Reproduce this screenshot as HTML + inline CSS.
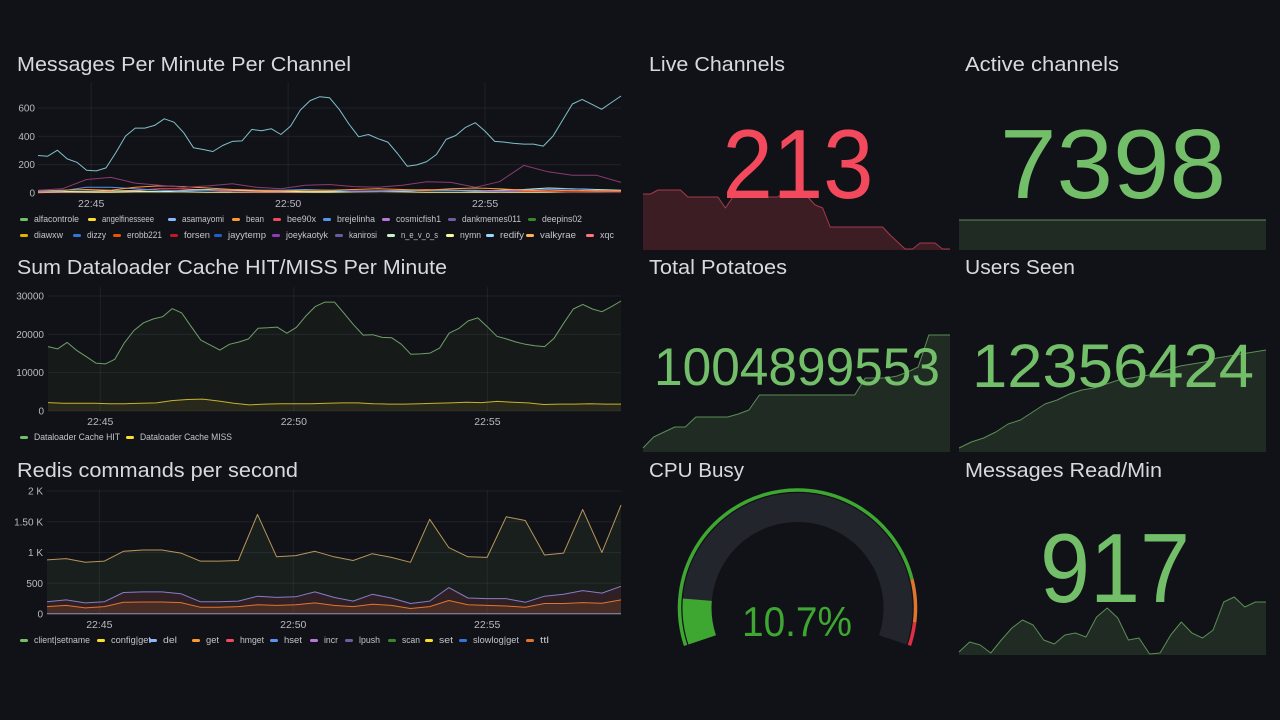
<!DOCTYPE html>
<html><head><meta charset="utf-8"><title>Dashboard</title>
<style>
html,body{margin:0;padding:0;background:#111217;}
svg{display:block;font-family:"Liberation Sans",sans-serif;}
</style></head>
<body>
<svg id="dash" width="1280" height="720" viewBox="0 0 1280 720" xmlns="http://www.w3.org/2000/svg">
<rect x="0" y="0" width="1280" height="720" fill="#111217"/>
<g fill="#d8d9e0" font-size="20">
<text x="17" y="71" textLength="334" lengthAdjust="spacingAndGlyphs">Messages Per Minute Per Channel</text>
<text x="17" y="274" textLength="430" lengthAdjust="spacingAndGlyphs">Sum Dataloader Cache HIT/MISS Per Minute</text>
<text x="17" y="477" textLength="281" lengthAdjust="spacingAndGlyphs">Redis commands per second</text>
<text x="649" y="71" textLength="136" lengthAdjust="spacingAndGlyphs">Live Channels</text>
<text x="965" y="71" textLength="154" lengthAdjust="spacingAndGlyphs">Active channels</text>
<text x="649" y="274" textLength="138" lengthAdjust="spacingAndGlyphs">Total Potatoes</text>
<text x="965" y="274" textLength="110" lengthAdjust="spacingAndGlyphs">Users Seen</text>
<text x="649" y="477" textLength="95" lengthAdjust="spacingAndGlyphs">CPU Busy</text>
<text x="965" y="477" textLength="197" lengthAdjust="spacingAndGlyphs">Messages Read/Min</text>
</g>
</svg>
<script>
// ---------- DATA ----------
const timeTicks = [45, 50, 55];
const timeTickLabels = ["22:45", "22:50", "22:55"];
const p1Ticks = [0, 200, 400, 600];
const p1TickLabels = ["0", "200", "400", "600"];
const redify = [265,260,302,241,217,160,156,177,283,402,458,458,477,524,500,425,319,307,293,335,364,368,449,439,454,413,472,586,652,680,673,591,487,397,413,383,359,279,189,198,222,272,378,406,463,496,437,364,359,350,345,345,331,402,515,628,661,626,591,638,685];
const joeykaotyk = [20,30,95,110,70,55,40,50,65,40,30,55,60,45,40,55,80,75,40,80,195,150,125,125,75];
const bean = [15,20,25,20,40,50,45,35,25,20,15,20,20,25,30,25,20,30,35,30,20,15,20,15,15];
const brejelinha = [10,15,40,40,30,20,15,20,25,20,20,25,20,10,10,15,20,20,20,15,20,25,30,20,15];
const nevos = [10,10,12,15,15,10,20,25,20,15,12,10,10,10,12,15,20,20,15,20,25,35,30,25,20];
const bee90x = [5,8,10,12,20,30,30,20,10,8,8,10,12,15,15,20,25,20,15,10,12,10,8,10,8];
const nymn = [3,5,5,5,8,8,8,5,5,5,5,5,5,8,10,8,5,5,5,5,5,5,8,8,10];

const p2Ticks = [0, 10000, 20000, 30000];
const p2TickLabels = ["0", "10000", "20000", "30000"];
const cacheHit = [16800,16200,17900,15800,14200,12500,12300,13500,17800,21000,23000,24000,24600,26700,25600,22000,18500,17200,15900,17400,18000,18800,21600,21700,21900,20300,21800,24800,27300,28400,28400,25500,22500,19800,19900,19200,19100,17400,14800,14900,15100,16400,20300,21500,23500,24300,22000,19500,18800,18000,17400,17000,16800,19000,22900,26600,27800,26600,25900,27200,28700];
const cacheMiss = [2200,2000,2000,2000,1900,1900,2000,2100,2700,3000,3100,2600,2000,1600,1800,1900,1900,1900,2000,2100,2100,1900,1800,1800,1900,2000,2100,2300,2200,2500,2300,2100,1700,1800,1800,1900,1800,1800];

const p3Ticks = [0, 500, 1000, 1500, 2000];
const p3TickLabels = ["0", "500", "1 K", "1.50 K", "2 K"];
const redisTop = [880,900,840,860,1020,1040,1040,990,860,860,870,1620,930,950,1020,930,870,980,920,840,1540,1080,930,920,1580,1520,960,990,1700,1000,1770];
const redisMid = [200,230,180,200,350,360,360,330,200,200,210,290,270,280,360,270,210,320,260,170,210,430,260,250,250,190,290,320,380,340,450];
const redisLow = [120,140,100,120,190,195,195,185,110,110,120,150,140,150,180,140,120,160,140,90,120,220,150,140,130,110,170,170,185,175,230];
const redisZero = [5,5,5,5,5,5,5,5,5,5,5,5,5,5,5,5,5,5,5,5,5,5,5,5,5,5,5,5,5,5,5];

const liveValue = "213";
const liveHist = [252,252,256,256,256,256,249,249,249,249,249,238,249,249,249,249,249,249,249,255,249,249,249,241,238,219,219,219,219,219,219,219,219,211,204,197,197,203,203,203,197,197];
const activeValue = "7398";
const activeHist = [7398,7398,7398,7398,7398,7398,7398,7398,7398,7398];
const potatoValue = "1004899553";
const potatoHist = [4,15,20,25,25,35,35,35,35,38,42,57,57,57,57,57,57,57,57,57,57,74,74,74,76,80,85,117,117,117];
const usersValue = "12356424";
const usersHist = [4,10,14,20,28,32,40,48,52,58,62,64,68,72,74,76,78,82,86,88,90,94,96,98,100,102];
const msgsValue = "917";
const msgsHist = [3,13,10,2,15,27,35,30,15,11,20,22,18,38,47,37,15,17,1,2,20,33,22,17,25,53,58,48,53,53];
const cpuValue = 10.7;
const cpuThresholds = [0, 85, 94.7, 100];
const cpuThresholdColors = ["#3ea732", "#e0752d", "#e02f44"];

// ---------- HELPERS ----------
const NS = "http://www.w3.org/2000/svg";
const svg = document.getElementById("dash");
function mk(tag, attrs, parent) {
  const e = document.createElementNS(NS, tag);
  for (const k in attrs) e.setAttribute(k, attrs[k]);
  (parent || svg).appendChild(e);
  return e;
}
const T0 = 43.65, T1 = 58.45;
function timeX(t, x0, x1) { return x0 + (t - T0) / (T1 - T0) * (x1 - x0); }
function idxX(i, n, x0, x1) { return x0 + i / (n - 1) * (x1 - x0); }
function linY(v, d0, d1, yb, yt) { return yb - (v - d0) / (d1 - d0) * (yb - yt); }

function timeAxis(name, x0, x1, yTop, yBot, ty) {
  timeTicks.forEach((t, i) => {
    const x = timeX(t, x0, x1);
    const gl = mk("line", {x1: x, x2: x, y1: yTop, y2: yBot, stroke: "rgba(204,204,220,0.08)"});
    
    
    const tx = mk("text", {x: x, y: ty, "text-anchor": "middle", "font-size": "10.5", fill: "#b8b9c2"});
    tx.textContent = timeTickLabels[i];
    
    
  });
}
function valueAxis(name, ticks, labels, d0, d1, yb, yt, x0, x1, lx) {
  ticks.forEach((v, i) => {
    const y = linY(v, d0, d1, yb, yt);
    const gl = mk("line", {x1: x0, x2: x1, y1: y, y2: y, stroke: "rgba(204,204,220,0.08)"});
    
    
    const tx = mk("text", {x: lx, y: y + 3.5, "text-anchor": "end", "font-size": "10", fill: "#b8b9c2"});
    tx.textContent = labels[i];
    
    
  });
}
function series(name, vals, x0, x1, d0, d1, yb, yt, stroke, fill, width) {
  const pts = vals.map((v, i) => [idxX(i, vals.length, x0, x1), linY(v, d0, d1, yb, yt)]);
  const d = "M" + pts.map(p => p[0].toFixed(1) + "," + p[1].toFixed(1)).join("L");
  if (fill) {
    const a = mk("path", {d: d + "L" + x1 + "," + yb + "L" + x0 + "," + yb + "Z", fill: fill, stroke: "none"});
    
    
  }
  const l = mk("path", {d: d, fill: "none", stroke: stroke, "stroke-width": width || 1, "stroke-linejoin": "round"});
  
  
}
// items: [label, color, textX, textWidth]
function legend(name, items, y) {
  items.forEach(it => {
    const r = mk("rect", {x: it[2] - 14, y: y - 4, width: 8, height: 3, rx: 1.5, fill: it[1]});
    
    
    const t = mk("text", {x: it[2], y: y, "font-size": "9.5", fill: "#c4c5cc", textLength: it[3], lengthAdjust: "spacingAndGlyphs"});
    t.textContent = it[0];
    
    
  });
}

// ---------- PANEL 1 ----------
(function () {
  const x0 = 38, x1 = 621, yb = 193, yt = 108, d1 = 600;
  valueAxis("messages", p1Ticks, p1TickLabels, 0, d1, yb, yt, x0, x1, 35);
  timeAxis("messages", x0, x1, 82, yb, 207);
  series("nymn", nymn, x0, x1, 0, d1, yb, yt, "#fff899");
  series("bee90x", bee90x, x0, x1, 0, d1, yb, yt, "#f2495c");
  series("n-e-v-o-s", nevos, x0, x1, 0, d1, yb, yt, "#c8f2c2");
  series("brejelinha", brejelinha, x0, x1, 0, d1, yb, yt, "#5794f2");
  series("bean", bean, x0, x1, 0, d1, yb, yt, "#ff9830");
  series("joeykaotyk", joeykaotyk, x0, x1, 0, d1, yb, yt, "#8c3a72");
  series("redify", redify, x0, x1, 0, d1, yb, yt, "#7fc0cc");
  legend("messages", [["alfacontrole","#73bf69",34,45],["angelfinesseee","#fade2a",102,52],["asamayomi","#8ab8ff",182,42],["bean","#ff9830",246,18],["bee90x","#f2495c",287,29],["brejelinha","#5794f2",337,38],["cosmicfish1","#b877d9",396,45],["dankmemes011","#705da0",462,59],["deepins02","#37872d",542,40]], 222);
  legend("messages", [["diawxw","#e0b400",34,29],["dizzy","#3274d9",87,19],["erobb221","#e55400",127,35],["forsen","#c4162a",184,26],["jayytemp","#1f60c4",228,38],["joeykaotyk","#8f3bb8",286,42],["kanirosi","#6a5c9c",349,28],["n_e_v_o_s","#c8f2c2",401,37],["nymn","#fff899",460,21],["redify","#97d9ff",500,24],["valkyrae","#ffb357",540,36],["xqc","#ff7383",600,14]], 238);
})();

// ---------- PANEL 2 ----------
(function () {
  const x0 = 48, x1 = 621, yb = 411, yt = 296, d1 = 30000;
  valueAxis("cache", p2Ticks, p2TickLabels, 0, d1, yb, yt, x0, x1, 44);
  timeAxis("cache", x0, x1, 287, yb, 425);
  series("cache-hit", cacheHit, x0, x1, 0, d1, yb, yt, "#6f9e69", "rgba(115,191,105,0.05)");
  series("cache-miss", cacheMiss, x0, x1, 0, d1, yb, yt, "#c9b02e", "rgba(250,222,42,0.08)");
  legend("cache", [["Dataloader Cache HIT","#73bf69",34,86],["Dataloader Cache MISS","#fade2a",140,92]], 440);
})();

// ---------- PANEL 3 ----------
(function () {
  const x0 = 47, x1 = 621, yb = 614, yt = 491, d1 = 2000;
  valueAxis("redis", p3Ticks, p3TickLabels, 0, d1, yb, yt, x0, x1, 43);
  timeAxis("redis", x0, x1, 490, yb, 628);
  series("redis-scan", redisTop, x0, x1, 0, d1, yb, yt, "#b8955a", "rgba(115,191,105,0.08)");
  series("redis-lpush", redisMid, x0, x1, 0, d1, yb, yt, "#8a7bc8", "rgba(160,40,80,0.16)");
  series("redis-get", redisLow, x0, x1, 0, d1, yb, yt, "#e0752d", "rgba(255,120,40,0.12)");
  series("redis-ttl", redisZero, x0, x1, 0, d1, yb, yt, "#8896b8");
  legend("redis", [["client|setname","#73bf69",34,56],["config|get","#fade2a",111,40],["del","#8ab8ff",163,14],["get","#ff9830",206,13],["hmget","#f2495c",240,24],["hset","#5794f2",284,18],["incr","#b877d9",324,14],["lpush","#705da0",359,21],["scan","#37872d",402,18],["set","#fade2a",439,14],["slowlog|get","#3274d9",473,46],["ttl","#e0752d",540,9]], 643);
})();

// ---------- STAT PANELS ----------
function spark(name, vals, x0, x1, d0, d1, yb, yt, stroke, fill) {
  series(name + "-sparkline", vals, x0, x1, d0, d1, yb, yt, stroke, fill, 1);
}
function bigNum(name, txt, cx, baseline, size, len, color) {
  const t = mk("text", {x: cx, y: baseline, "text-anchor": "middle", "font-size": size, fill: color, textLength: len, lengthAdjust: "spacingAndGlyphs"});
  t.textContent = txt;
  
  
}
spark("live-channels", liveHist, 643, 950, 196, 256, 250, 190, "#a63a4a", "rgba(242,73,92,0.2)");
bigNum("live-channels-value", liveValue, 798, 198, 98, 151, "#f2495c");
spark("active-channels", activeHist, 959, 1266, 0, 7398, 250, 220, "#5a8f54", "rgba(115,191,105,0.15)");
bigNum("active-channels-value", activeValue, 1113, 198, 98, 226, "#73bf69");
spark("total-potatoes", potatoHist, 643, 950, 0, 117, 452, 335, "#5a8f54", "rgba(115,191,105,0.15)");
bigNum("total-potatoes-value", potatoValue, 797, 385, 53, 286, "#73bf69");
spark("users-seen", usersHist, 959, 1266, 0, 102, 452, 350, "#5a8f54", "rgba(115,191,105,0.15)");
bigNum("users-seen-value", usersValue, 1113, 387, 61, 282, "#73bf69");
spark("messages-read", msgsHist, 959, 1266, 0, 60, 655, 595, "#5a8f54", "rgba(115,191,105,0.15)");
bigNum("messages-read-value", msgsValue, 1115, 602, 98, 150, "#73bf69");

// ---------- GAUGE ----------
(function () {
  const cx = 797.5, cy = 608, A0 = -108.5, A1 = 108.5;
  function ang(p) { return A0 + p / 100 * (A1 - A0); }
  function pt(a, r) { const rad = a * Math.PI / 180; return [cx + r * Math.sin(rad), cy - r * Math.cos(rad)]; }
  function arc(a0, a1, r) {
    const s = pt(a0, r), e = pt(a1, r);
    return "M" + s[0] + "," + s[1] + " A" + r + "," + r + " 0 " + ((a1 - a0) > 180 ? 1 : 0) + " 1 " + e[0] + "," + e[1];
  }
  const bg = mk("path", {d: arc(A0, A1, 100.5), fill: "none", stroke: "#22252b", "stroke-width": 29});
  
  
  const val = mk("path", {d: arc(A0, ang(cpuValue), 100.5), fill: "none", stroke: "#3ea732", "stroke-width": 29});
  
  
  for (let i = 0; i < cpuThresholdColors.length; i++) {
    const th = mk("path", {d: arc(ang(cpuThresholds[i]), ang(cpuThresholds[i + 1]), 118), fill: "none", stroke: cpuThresholdColors[i], "stroke-width": 3.5});
    
    
  }
  const t = mk("text", {x: 797, y: 636, "text-anchor": "middle", "font-size": 42, fill: "#3ea732", textLength: 110, lengthAdjust: "spacingAndGlyphs"});
  t.textContent = cpuValue.toFixed(1) + "%";
  
  
})();
</script>
</body></html>
